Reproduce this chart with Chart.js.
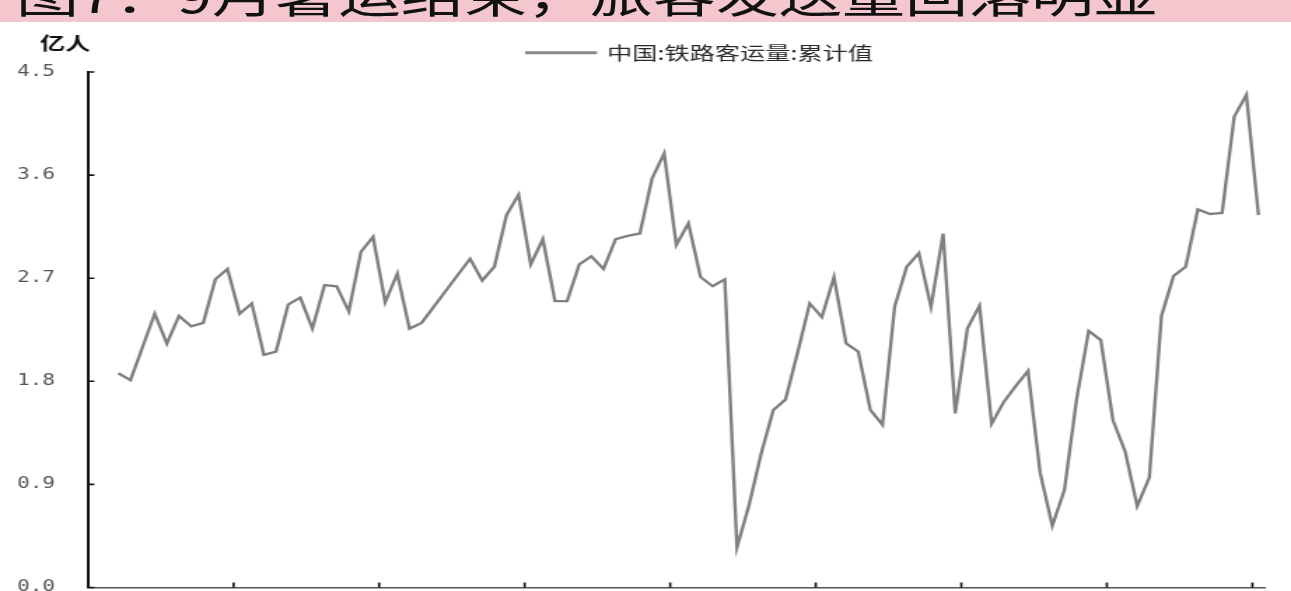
<!DOCTYPE html>
<html>
<head>
<meta charset="utf-8">
<script src="https://cdn.jsdelivr.net/npm/chart.js@4.4.0/dist/chart.umd.min.js"></script>
<style>
  html, body { margin: 0; padding: 0; width: 1291px; height: 591px; overflow: hidden; background: #fff; }
  #wrap { position: absolute; left: 0; top: 0; width: 922px; height: 620px; transform: scaleX(1.40022); transform-origin: 0 0; }
  #band { position: absolute; left: 0; top: 0; width: 1291px; height: 22px; background: #f3c7cd; overflow: hidden; }
  #title { position: absolute; left: 16px; top: -29px; font: 45px/45px "Noto Sans CJK SC", sans-serif; color: #111;
           white-space: nowrap; transform: scaleX(1.4); transform-origin: 0 0; }
</style>
</head>
<body>
<div id="wrap"><canvas id="c" width="922" height="620"></canvas></div>
<div id="band"><div id="title">图7：9月暑运结束，旅客发送量回落明显</div></div>
<script>
// Monthly railway passenger volume, 亿人
const SERIES_NAME = '中国:铁路客运量:累计值';
const UNIT = '亿人';
const startYear = 2015, startMonth = 9, endYear = 2023, endMonth = 9;

const vol2015 = [null, null, 1.87, 1.81];                                                   // Sep–Dec
const vol2016 = [2.10, 2.39, 2.13, 2.37, 2.28, 2.31, 2.69, 2.78, 2.39, 2.48, 2.03, 2.06];
const vol2017 = [2.47, 2.53, 2.26, 2.64, 2.63, 2.41, 2.93, 3.06, 2.49, 2.74, 2.26, 2.31];
const vol2018 = [2.45, 2.59, 2.73, 2.87, 2.68, 2.80, 3.25, 3.43, 2.82, 3.04, 2.50, 2.50];
const vol2019 = [2.82, 2.89, 2.78, 3.04, 3.07, 3.09, 3.57, 3.79, 2.99, 3.18, 2.71, 2.63];
const vol2020 = [2.69, 0.35, 0.72, 1.17, 1.55, 1.64, 2.05, 2.48, 2.36, 2.71, 2.13, 2.06];
const vol2021 = [1.55, 1.42, 2.45, 2.80, 2.92, 2.45, 3.09, 1.52, 2.26, 2.46, 1.43, 1.62];
const vol2022 = [1.76, 1.89, 1.00, 0.54, 0.85, 1.64, 2.24, 2.16, 1.46, 1.19, 0.71, 0.96];
const vol2023 = [2.37, 2.72, 2.80, 3.30, 3.26, 3.27, 4.11, 4.30, 3.25];                     // Jan–Sep

const yTicks = [0, 0.9, 1.8, 2.7, 3.6, 4.5];

const months = [];
for (let y = startYear, m = startMonth; y < endYear || (y === endYear && m <= endMonth); ) {
  months.push(y + '-' + String(m).padStart(2, '0'));
  m++; if (m > 12) { m = 1; y++; }
}
const volume = [].concat(vol2015, vol2016, vol2017, vol2018, vol2019, vol2020, vol2021, vol2022, vol2023);

// inward tick marks, unit label and the legend
const decor = {
  id: 'decor',
  afterDraw(chart) {
    const { ctx, chartArea: a, scales: { x, y } } = chart;
    ctx.save();
    ctx.strokeStyle = '#111';
    ctx.lineWidth = 1.6;
    ctx.beginPath();
    yTicks.forEach(v => {
      const py = y.getPixelForValue(v);
      ctx.moveTo(a.left, py); ctx.lineTo(a.left + 4.5, py);
    });
    const half = (x.getPixelForValue(1) - x.getPixelForValue(0)) / 2;
    for (let k = 12; k < months.length; k += 12) {
      const px = x.getPixelForValue(k) - half;
      ctx.moveTo(px, a.bottom); ctx.lineTo(px, a.bottom - 5);
    }
    ctx.stroke();

    ctx.fillStyle = '#111';
    ctx.font = 'bold 18px "Noto Sans CJK SC"';
    ctx.textAlign = 'center';
    ctx.textBaseline = 'middle';
    ctx.fillText(UNIT, 46.4, 43);

    ctx.strokeStyle = '#8a8a8a';
    ctx.lineWidth = 3;
    ctx.beginPath();
    ctx.moveTo(375, 52.7); ctx.lineTo(426.4, 52.7);
    ctx.stroke();
    ctx.fillStyle = '#2a2a2a';
    ctx.font = '18px "Noto Sans CJK SC"';
    ctx.textAlign = 'left';
    ctx.fillText(SERIES_NAME, 433.6, 53);
    ctx.restore();
  }
};

new Chart(document.getElementById('c'), {
  type: 'line',
  data: {
    labels: months,
    datasets: [{
      label: SERIES_NAME,
      data: volume,
      borderColor: '#808080',
      borderWidth: 2.4,
      pointRadius: 0,
      tension: 0,
      fill: false
    }]
  },
  options: {
    responsive: false,
    animation: false,
    devicePixelRatio: 1,
    layout: { padding: { top: 72, right: 18.9, bottom: 0, left: 0 } },
    plugins: { legend: { display: false }, tooltip: { enabled: false }, title: { display: false } },
    scales: {
      x: {
        type: 'category',
        offset: true,
        grid: { display: true, drawOnChartArea: false, drawTicks: false },
        border: { display: true, color: '#555', width: 1.6 },
        ticks: { display: false },
        afterFit: s => { s.height = 32; }
      },
      y: {
        min: 0, max: 4.5,
        afterBuildTicks: s => { s.ticks = yTicks.map(v => ({ value: v })); },
        grid: { display: true, drawOnChartArea: false, drawTicks: false },
        border: { display: true, color: '#111', width: 2 },
        ticks: {
          padding: 23.5,
          color: '#555',
          font: { family: '"DejaVu Sans Mono", monospace', size: 15 },
          callback: v => v.toFixed(1)
        },
        afterFit: s => { s.width = 62.85; }
      }
    }
  },
  plugins: [decor]
});
</script>
</body>
</html>
